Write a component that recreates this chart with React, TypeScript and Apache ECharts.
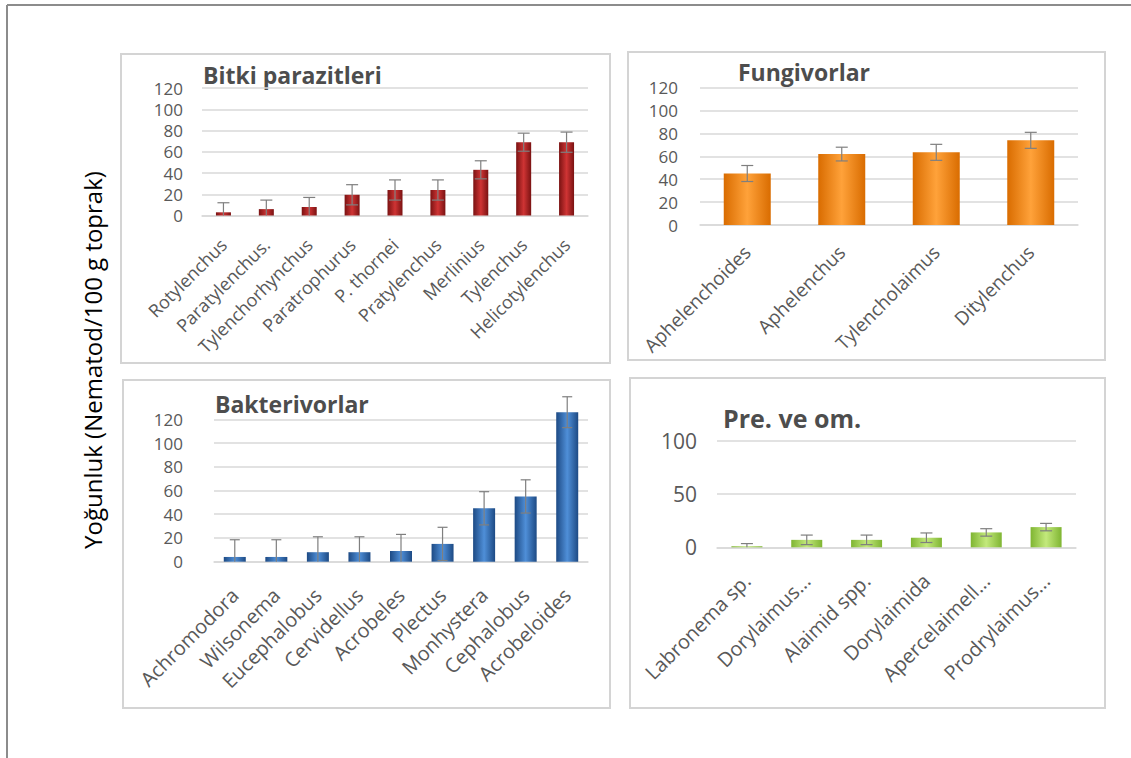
import React, { useEffect, useRef } from "react";
import * as echarts from "echarts";

const bpCats = ["Rotylenchus", "Paratylenchus.", "Tylenchorhynchus", "Paratrophurus", "P. thornei", "Pratylenchus", "Merlinius", "Tylenchus", "Helicotylenchus"];
const bpVals = [3, 6, 8, 19.5, 24, 24, 43, 69, 69];
const bpErr = [9, 8.5, 9, 9.5, 9.5, 9.5, 8.5, 8.5, 9.5];

const fgCats = ["Aphelenchoides", "Aphelenchus", "Tylencholaimus", "Ditylenchus"];
const fgVals = [45, 62, 63.5, 74];
const fgErr = [7, 6, 7, 7];

const bkCats = ["Achromodora", "Wilsonema", "Eucephalobus", "Cervidellus", "Acrobeles", "Plectus", "Monhystera", "Cephalobus", "Acrobeloides"];
const bkVals = [4, 4, 8, 8, 9, 15, 45, 55, 126];
const bkErr = [14.5, 14.5, 13, 13, 14, 14, 14, 14, 13];

const pmCats = ["Labronema sp.", "Dorylaimus...", "Alaimid spp.", "Dorylaimida", "Apercelaimell...", "Prodrylaimus..."];
const pmVals = [1, 7, 7, 9, 14, 19];
const pmErr = [2.5, 4.5, 4.5, 4.5, 3.5, 3.5];

const titles = ["Bitki parazitleri", "Fungivorlar", "Bakterivorlar", "Pre. ve om."];
const yTitle = "Yoğunluk (Nematod/100 g toprak)";

const FONT = "'Open Sans', sans-serif";
const LABEL = "#595959";
const GRIDC = "#d9d9d9";
const ERRC = "#7f7f7f";

function grad(edge: string, mid: string) {
  return new echarts.graphic.LinearGradient(0, 0, 1, 0, [
    { offset: 0, color: edge },
    { offset: 0.5, color: mid },
    { offset: 1, color: edge },
  ]);
}

function errSeries(idx: number, vals: number[], errs: number[], capHalf: number) {
  return {
    type: "custom",
    xAxisIndex: idx,
    yAxisIndex: idx,
    clip: false,
    z: 10,
    silent: true,
    encode: { x: 0, y: [1, 2] },
    data: vals.map((v, i) => [i, Math.max(0, v - errs[i]), v + errs[i], v - errs[i] >= 0 ? 1 : 0]),
    renderItem: (params: any, api: any) => {
      const x = api.value(0);
      const lo = api.coord([x, api.value(1)]);
      const hi = api.coord([x, api.value(2)]);
      const st = { stroke: ERRC, lineWidth: 1.2 };
      const children: any[] = [
        { type: "line", shape: { x1: lo[0], y1: lo[1], x2: hi[0], y2: hi[1] }, style: st },
        { type: "line", shape: { x1: hi[0] - capHalf, y1: hi[1], x2: hi[0] + capHalf, y2: hi[1] }, style: st },
      ];
      if (api.value(3)) {
        children.push({ type: "line", shape: { x1: lo[0] - capHalf, y1: lo[1], x2: lo[0] + capHalf, y2: lo[1] }, style: st });
      }
      return { type: "group", children };
    },
  };
}

export default function App() {
  const ref = useRef<HTMLDivElement>(null);
  useEffect(() => {
    if (!ref.current) return;
    const chart = echarts.init(ref.current, undefined, { renderer: "svg" });

    const grids = [
      { left: 202, top: 88, width: 386, height: 127.5 },
      { left: 700, top: 87.7, width: 378, height: 137.3 },
      { left: 214, top: 419.3, width: 374, height: 142.4 },
      { left: 717, top: 441, width: 359, height: 106.3 },
    ];
    const cats = [bpCats, fgCats, bkCats, pmCats];
    const yMax = [120, 120, 120, 100];
    const yInt = [20, 20, 20, 50];
    const yFont = [17, 17, 17, 21];
    const yMargin = [19, 22, 31, 20];
    const xFont = [18, 19, 20, 20];
    const xMargin = [26, 24, 30, 30];

    const xAxis = cats.map((c, i) => ({
      type: "category",
      gridIndex: i,
      data: c,
      axisLine: { show: true, lineStyle: { color: GRIDC, width: 1.5 } },
      axisTick: { show: false },
      axisLabel: { interval: 0, rotate: 45, color: LABEL, fontSize: xFont[i], fontFamily: FONT, margin: xMargin[i] },
    }));
    const yAxis = cats.map((c, i) => ({
      type: "value",
      gridIndex: i,
      min: 0,
      max: yMax[i],
      interval: yInt[i],
      axisLine: { show: false },
      axisTick: { show: false },
      splitLine: { show: true, lineStyle: { color: GRIDC, width: 1.5 } },
      axisLabel: { color: LABEL, fontSize: yFont[i], lineHeight: 17, fontFamily: FONT, margin: yMargin[i] },
    }));

    const series: any[] = [
      { type: "bar", xAxisIndex: 0, yAxisIndex: 0, data: bpVals, barWidth: 15, clip: false, itemStyle: { color: grad("#7a1212", "#cf3434") } },
      { type: "bar", xAxisIndex: 1, yAxisIndex: 1, data: fgVals, barWidth: 47, clip: false, itemStyle: { color: grad("#d96c00", "#ffa23a") } },
      { type: "bar", xAxisIndex: 2, yAxisIndex: 2, data: bkVals, barWidth: 22, clip: false, itemStyle: { color: grad("#1d4a84", "#4f8fd8") } },
      { type: "bar", xAxisIndex: 3, yAxisIndex: 3, data: pmVals, barWidth: 31, clip: false, itemStyle: { color: grad("#7fb532", "#c3e97c") } },
      errSeries(0, bpVals, bpErr, 6),
      errSeries(1, fgVals, fgErr, 6),
      errSeries(2, bkVals, bkErr, 5),
      errSeries(3, pmVals, pmErr, 6),
    ];

    const panels = [
      { x: 121, y: 54, w: 489, h: 309 },
      { x: 628, y: 52, w: 477, h: 308 },
      { x: 123, y: 380, w: 487, h: 328 },
      { x: 630, y: 378, w: 475, h: 330 },
    ];
    const titlePos = [
      { x: 203, y: 75, s: 23 },
      { x: 738, y: 72, s: 23 },
      { x: 215, y: 404, s: 23 },
      { x: 723, y: 418, s: 25 },
    ];

    const graphic: any[] = [
      { type: "line", shape: { x1: 7, y1: 5, x2: 1131, y2: 5 }, style: { stroke: "#8c8c8c", lineWidth: 2 } },
      { type: "line", shape: { x1: 7, y1: 5, x2: 7, y2: 758 }, style: { stroke: "#8c8c8c", lineWidth: 2 } },
      ...panels.map((p) => ({
        type: "rect",
        shape: { x: p.x, y: p.y, width: p.w, height: p.h },
        style: { fill: "#ffffff", stroke: "#d4d4d4", lineWidth: 2 },
        z: -10,
      })),
      ...titlePos.map((t, i) => ({
        type: "text",
        x: t.x,
        y: t.y,
        style: { text: titles[i], fontSize: t.s, fontWeight: "bold", fill: "#4d4d4d", fontFamily: FONT, verticalAlign: "middle", align: "left" },
      })),
      {
        type: "text",
        x: 92,
        y: 360,
        rotation: Math.PI / 2,
        style: { text: yTitle, fontSize: 24, fill: "#000000", fontFamily: FONT, align: "center", verticalAlign: "middle" },
      },
    ];

    chart.setOption({
      animation: false,
      backgroundColor: "#ffffff",
      grid: grids,
      xAxis,
      yAxis,
      series,
      graphic,
    });
    return () => chart.dispose();
  }, []);
  return <div ref={ref} style={{ position: "absolute", left: 0, top: 0, width: 1131, height: 758 }} />;
}
